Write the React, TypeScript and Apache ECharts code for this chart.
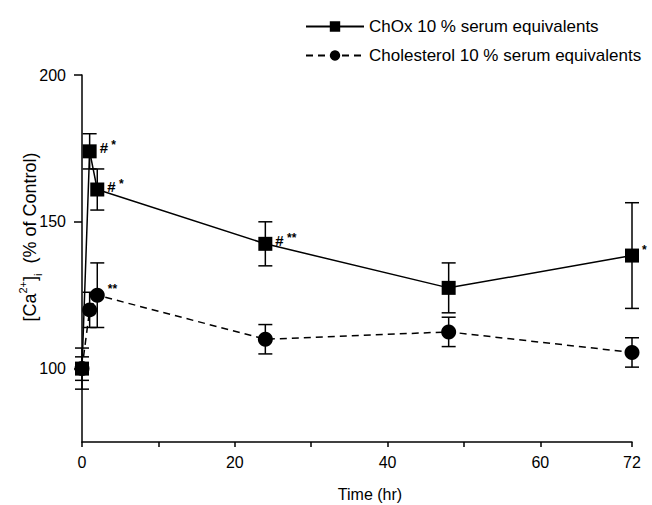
import React, { useEffect, useRef } from 'react';
import * as echarts from 'echarts';

const times = [0, 1, 2, 24, 48, 72];
const choxValues = [100, 174, 161, 142.5, 127.5, 138.5];
const choxErrors = [7, 6, 7, 7.5, 8.5, 18];
const cholValues = [100, 120, 125, 110, 112.5, 105.5];
const cholErrors = [4, 6, 11, 5, 5, 5];
const choxNotes = ['', '# *', '# *', '# **', '', '*'];
const cholNotes = ['', '', '**', '', '', ''];
const xTickValues = [0, 10, 20, 30, 40, 50, 60, 72];
const xLabelValues = [0, 20, 40, 60, 72];
const yTickValues = [100, 150, 200];
const seriesNames = ['ChOx 10 % serum equivalents', 'Cholesterol 10 % serum equivalents'];
const xAxisTitle = 'Time (hr)';
const yAxisTitle = '[Ca{sup|2+}]{sub|i}  (% of Control)';

const FONT = "'Liberation Sans', Arial, Helvetica, sans-serif";

function errorData(vals: number[], errs: number[]) {
  return times.map((t, i) => [t, vals[i] - errs[i], vals[i] + errs[i]]);
}

function noteRich(note: string) {
  return note
    .split(' ')
    .map((part) => (part === '#' ? '{h|#}' : '{s|' + part + '}'))
    .join(' ');
}

function lineData(vals: number[], notes: string[]) {
  return times.map((t, i) => ({
    value: [t, vals[i]],
    label: {
      show: notes[i] !== '',
      formatter: noteRich(notes[i]),
      position: 'right',
      distance: 3,
      offset: [0, -4],
      color: '#000',
      fontFamily: FONT,
      rich: {
        h: { fontSize: 15, fontWeight: 'bold', color: '#000', fontFamily: FONT, verticalAlign: 'bottom', lineHeight: 16 },
        s: { fontSize: 12, fontWeight: 'bold', color: '#000', fontFamily: FONT, verticalAlign: 'top', lineHeight: 16 },
      },
    },
  }));
}

function errorSeries(name: string, vals: number[], errs: number[]) {
  return {
    type: 'custom',
    name: name + ' error',
    z: 1,
    data: errorData(vals, errs),
    encode: { x: 0, y: [1, 2] },
    renderItem: (_params: any, api: any) => {
      const x = api.value(0);
      const lo = api.coord([x, api.value(1)]);
      const hi = api.coord([x, api.value(2)]);
      const half = 7;
      const style = { stroke: '#000', lineWidth: 1.5 };
      return {
        type: 'group',
        children: [
          { type: 'line', shape: { x1: lo[0], y1: lo[1], x2: hi[0], y2: hi[1] }, style },
          { type: 'line', shape: { x1: lo[0] - half, y1: lo[1], x2: lo[0] + half, y2: lo[1] }, style },
          { type: 'line', shape: { x1: hi[0] - half, y1: hi[1], x2: hi[0] + half, y2: hi[1] }, style },
        ],
      };
    },
  };
}

export default function App() {
  const ref = useRef<HTMLDivElement>(null);
  useEffect(() => {
    if (!ref.current) return;
    const chart = echarts.init(ref.current, null, { renderer: 'svg' });
    chart.setOption({
      animation: false,
      backgroundColor: '#fff',
      textStyle: { fontFamily: FONT, color: '#000' },
      grid: { left: 82, right: 20, top: 75, bottom: 63 },
      legend: {
        data: seriesNames,
        orient: 'vertical',
        left: 300,
        top: 13,
        itemWidth: 58,
        itemHeight: 13,
        itemGap: 12,
        textStyle: { fontSize: 17, color: '#000', fontFamily: FONT },
      },
      xAxis: {
        type: 'value',
        min: 0,
        max: 72,
        splitLine: { show: false },
        axisLine: { lineStyle: { color: '#000', width: 1.5 } },
        axisTick: { customValues: xTickValues, length: 5, lineStyle: { color: '#000', width: 1.5 } },
        axisLabel: { customValues: xLabelValues, margin: 12, fontSize: 16, color: '#000', fontFamily: FONT },
      },
      yAxis: {
        type: 'value',
        min: 75,
        max: 200,
        splitLine: { show: false },
        axisLine: { show: true, lineStyle: { color: '#000', width: 1.5 } },
        axisTick: { show: true, customValues: yTickValues, length: 8, lineStyle: { color: '#000', width: 1.5 } },
        axisLabel: { customValues: yTickValues, margin: 16, fontSize: 16, color: '#000', fontFamily: FONT },
      },
      graphic: [
        {
          type: 'text',
          x: 30,
          y: 237,
          rotation: Math.PI / 2,
          style: {
            text: yAxisTitle,
            fontSize: 18,
            fontFamily: FONT,
            fill: '#000',
            align: 'center',
            verticalAlign: 'middle',
            lineHeight: 26,
            rich: {
              sup: { fontSize: 11, verticalAlign: 'top', lineHeight: 26, fontFamily: FONT, fill: '#000' },
              sub: { fontSize: 11, verticalAlign: 'bottom', lineHeight: 26, fontFamily: FONT, fill: '#000' },
            },
          },
        },
        {
          type: 'text',
          x: 370,
          y: 494,
          style: {
            text: xAxisTitle,
            fontSize: 16,
            fontFamily: FONT,
            fill: '#000',
            align: 'center',
            verticalAlign: 'middle',
          },
        },
      ],
      series: [
        errorSeries(seriesNames[0], choxValues, choxErrors),
        errorSeries(seriesNames[1], cholValues, cholErrors),
        {
          type: 'line',
          name: seriesNames[0],
          z: 3,
          data: lineData(choxValues, choxNotes),
          symbol: 'rect',
          symbolSize: 14,
          lineStyle: { color: '#000', width: 1.5, type: 'solid' },
          itemStyle: { color: '#000' },
        },
        {
          type: 'line',
          name: seriesNames[1],
          z: 3,
          data: lineData(cholValues, cholNotes),
          symbol: 'circle',
          symbolSize: 15,
          lineStyle: { color: '#000', width: 1.5, type: [7, 5] },
          itemStyle: { color: '#000' },
        },
      ],
    });
    return () => chart.dispose();
  }, []);
  return <div ref={ref} style={{ position: 'fixed', left: 0, top: 0, width: 652, height: 505 }} />;
}
